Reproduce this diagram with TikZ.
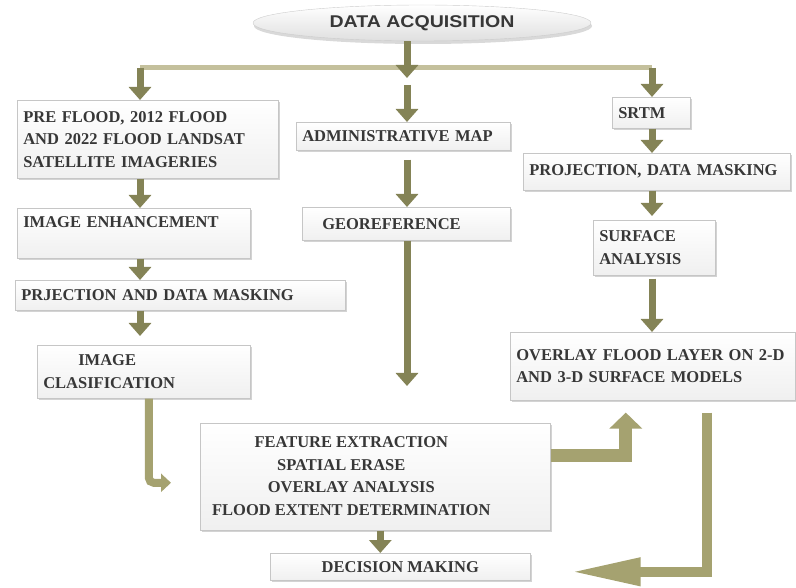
\documentclass[tikz,border=0pt]{standalone}
\usepackage{fontspec}
\setmainfont{Liberation Serif}
\newfontfamily\titlefont[FakeStretch=1.15]{Liberation Sans}
\usetikzlibrary{arrows.meta, shadows, shapes.geometric}
\definecolor{olivearrow}{RGB}{132,131,86}
\definecolor{olivelight}{RGB}{165,162,112}
\definecolor{olivebar}{RGB}{196,192,156}
\definecolor{boxtext}{RGB}{55,55,55}
\tikzset{
  box/.style={draw=gray!45, line width=0.6pt, top color=white, bottom color=gray!12,
    drop shadow={shadow xshift=1.5pt, shadow yshift=-2pt, opacity=0.35, fill=gray},
    anchor=north west, inner xsep=6pt, text=boxtext,
    font=\fontsize{16.5}{22.5}\selectfont\bfseries},
  leftbox/.style={box, align=left},
  downarrow/.style={draw=olivearrow, line width=7pt, -{Triangle[width=22pt,length=13pt]}},
  elbowarrow/.style={draw=olivelight, line join=miter}
}

\begin{document}
\begin{tikzpicture}[x=1pt, y=-1pt]
    \useasboundingbox (0,0) rectangle (796,588);

    % titre
    \node[ellipse, draw=gray!40, top color=white, bottom color=gray!25,
          drop shadow={shadow xshift=1pt, shadow yshift=-3pt, opacity=0.3, fill=gray},
          minimum width=338pt, minimum height=36pt, text=boxtext,
          font=\titlefont\fontsize{17}{20}\selectfont\bfseries] (acq) at (422,23) {DATA ACQUISITION};

    % colonne gauche
    \node[leftbox, text width=249pt, minimum height=78pt] (pre) at (17,100)
        {PRE FLOOD, 2012 FLOOD\\AND 2022 FLOOD LANDSAT\\SATELLITE IMAGERIES};
    \node[leftbox, text width=221pt, minimum height=50pt] (enh) at (17,208)
        {IMAGE ENHANCEMENT\\\mbox{}};
    \node[leftbox, text width=318pt, minimum height=30pt] (prj) at (15,280)
        {PRJECTION AND DATA MASKING};
    \node[leftbox, text width=201pt, minimum height=53pt] (cls) at (37,345)
        {\hspace*{35pt}IMAGE\\CLASIFICATION};

    % colonne centrale
    \node[leftbox, text width=202pt, minimum height=28pt] (adm) at (296,122)
        {ADMINISTRATIVE MAP};
    \node[leftbox, text width=196pt, minimum height=33pt] (geo) at (302,207)
        {\hspace*{14pt}GEOREFERENCE};
    \node[box, minimum width=350pt, minimum height=107pt] (proc) at (200,423)
        {\begin{tabular}{@{}c@{}}
         FEATURE EXTRACTION\\
         SPATIAL ERASE\hspace*{20pt}\\
         OVERLAY ANALYSIS\\
         FLOOD EXTENT DETERMINATION
         \end{tabular}\hspace*{48pt}};
    \node[box, minimum width=260pt, minimum height=27pt] (dec) at (270,553)
        {DECISION MAKING};

    % colonne droite
    \node[leftbox, text width=66pt, minimum height=31pt] (srtm) at (612,97) {SRTM};
    \node[leftbox, text width=255pt, minimum height=37pt] (prjR) at (523,153)
        {PROJECTION, DATA MASKING};
    \node[leftbox, text width=110pt, minimum height=55pt] (srf) at (593,220)
        {SURFACE\\ANALYSIS};
    \node[leftbox, text width=273pt, minimum height=68pt] (ovl) at (510,332)
        {OVERLAY FLOOD LAYER ON 2-D\\AND 3-D SURFACE MODELS\\[4pt]};

    % barre de distribution
    \coordinate (barL) at (140,68);
    \coordinate (barM) at (407,68);
    \coordinate (barR) at (652,68);
    \draw[olivebar, line width=5pt] (barL) -- (barR);

    % fleches verticales
    \draw[downarrow] (acq.south -| barM) -- ([yshift=-10pt]barM);
    \draw[downarrow] (barL) -- (pre.north -| barL);
    \draw[downarrow] (barR) -- (srtm.north -| barR);
    \draw[downarrow] ([yshift=-17pt]barM) -- (adm.north -| barM);
    \draw[downarrow] (pre.south -| barL) -- (enh.north -| barL);
    \draw[downarrow] (enh.south -| barL) -- (prj.north -| barL);
    \draw[downarrow, shorten >=9pt] (prj.south -| barL) -- (cls.north -| barL);
    \draw[downarrow, shorten <=9pt] (adm.south -| barM) -- (geo.north -| barM);
    \draw[downarrow, shorten >=37pt] (geo.south -| barM) -- (proc.north -| barM);
    \draw[downarrow] (srtm.south -| barR) -- (prjR.north -| barR);
    \draw[downarrow, shorten >=4pt] (prjR.south -| barR) -- (srf.north -| barR);
    \draw[downarrow, shorten <=3pt] (srf.south -| barR) -- (ovl.north -| barR);
    \draw[downarrow] ([xshift=5pt]proc.south) -- ([xshift=5pt]proc.south |- dec.north);

    % fleches coudees
    \draw[elbowarrow, line width=8pt, rounded corners=5pt, -{Triangle[width=18pt,length=10pt]}]
        ([xshift=5pt]cls.south) |- ([shift={(-29pt,-6pt)}]proc.west);
    \draw[elbowarrow, line width=13pt, -{Triangle[width=32pt,length=16pt]}]
        ([yshift=21pt]proc.east) -| ([shift={(-27pt,-12pt)}]ovl.south);
    \draw[elbowarrow, line width=10pt, -{Triangle[width=26pt,length=70pt]}]
        ([shift={(54pt,-12pt)}]ovl.south) |- ([shift={(40pt,-5pt)}]dec.east);
\end{tikzpicture}
\end{document}
